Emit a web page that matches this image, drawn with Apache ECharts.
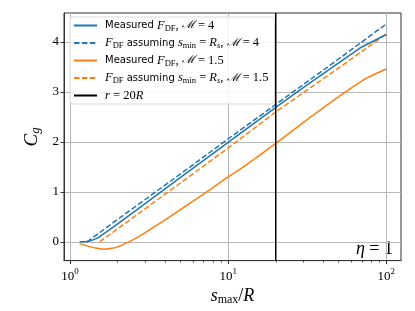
<!DOCTYPE html>
<html><head><meta charset="utf-8">
<script src="https://cdn.jsdelivr.net/npm/echarts@6/dist/echarts.min.js"></script>
<style>html,body{margin:0;padding:0;background:#fff}#c{width:415px;height:311px}</style>
</head><body><div id="c"></div>
<script>
// Measured F_DF, M = 4
const xM4 = [1.15, 1.25, 1.35, 1.5, 1.7, 2, 3, 5, 10, 20, 30, 50, 70, 100];
const yM4 = [0, 0, 0.02, 0.08, 0.2, 0.36, 0.77, 1.29, 1.99, 2.69, 3.09, 3.58, 3.90, 4.15];
// F_DF assuming s_min = R_s, M = 4
const xA4 = [1.28, 2, 5, 10, 20, 50, 100];
const yA4 = [0, 0.45, 1.36, 2.06, 2.75, 3.66, 4.36];
// Measured F_DF, M = 1.5
const xM15 = [1.15, 1.3, 1.45, 1.62, 1.8, 2.0, 2.36, 2.7, 3.2, 4.55, 7.33, 10, 12.5, 20, 33, 45, 57.7, 75.5, 100];
const yM15 = [-0.035, -0.085, -0.125, -0.147, -0.135, -0.10, 0, 0.10, 0.245, 0.56, 1.0, 1.30, 1.5, 1.97, 2.49, 2.80, 3.04, 3.28, 3.46];
// F_DF assuming s_min = R_s, M = 1.5
const xA15 = [1.54, 2, 5, 10, 20, 50, 100];
const yA15 = [0, 0.26, 1.18, 1.88, 2.60, 3.48, 4.16];
// r = 20R
const rLineX = 20;
const xTicks = [1, 10, 100];
const xMinorTicks = [2, 3, 4, 5, 6, 7, 8, 9, 20, 30, 40, 50, 60, 70, 80, 90];
const yTicks = [0, 1, 2, 3, 4];
const xMin = 0.916, xMax = 123.9, yMin = -0.375, yMax = 4.58;

const zip = (xs, ys) => xs.map((x, i) => [x, ys[i]]);
const SERIF = 'Liberation Serif';
const SANS = 'DejaVu Sans';
const legendNames = {
  m4: '{t|Measured }{i|F}{s|DF}{r|, }{c|ℳ}{r| = 4}',
  a4: '{i|F}{s|DF}{t| assuming }{i|s}{s|min}{r| = }{i|R}{si|s}{r|, }{c|ℳ}{r| = 4}',
  m15: '{t|Measured }{i|F}{s|DF}{r|, }{c|ℳ}{r| = 1.5}',
  a15: '{i|F}{s|DF}{t| assuming }{i|s}{s|min}{r| = }{i|R}{si|s}{r|, }{c|ℳ}{r| = 1.5}',
  r20: '{i|r}{r| = 20}{i|R}'
};
const blue = '#1f77b4', orange = '#ff7f0e';
const lw = 1.5, dash = [5.5, 2.4];

const chart = echarts.init(document.getElementById('c'), null, {renderer: 'canvas'});
chart.setOption({
  animation: false,
  backgroundColor: '#fff',
  grid: {left: 64, right: 14, top: 13, bottom: 45, show: true, borderColor: '#333', borderWidth: 1},
  legend: {
    orient: 'vertical', left: 70, top: 17,
    padding: [2, 6, 2, 3], itemGap: 3.5, itemWidth: 23, itemHeight: 10,
    itemStyle: {opacity: 0, borderWidth: 0},
    backgroundColor: 'rgba(255,255,255,0.85)', borderColor: '#dadada', borderWidth: 1, borderRadius: 3,
    selectedMode: false,
    data: ['m4', 'a4', 'm15', 'a15', 'r20'],
    formatter: n => legendNames[n],
    textStyle: {
      padding: [0, 0, 0, 3],
      rich: {
        t: {fontFamily: SANS, fontSize: 10, color: '#000'},
        i: {fontFamily: SERIF, fontStyle: 'italic', fontSize: 12.5, color: '#000'},
        r: {fontFamily: SERIF, fontSize: 12.5, color: '#000'},
        c: {fontFamily: 'DejaVu Serif', fontStyle: 'italic', fontSize: 11.5, color: '#000'},
        s: {fontFamily: SERIF, fontSize: 8.5, color: '#000', padding: [6, 0, 0, 0]},
        si: {fontFamily: SERIF, fontStyle: 'italic', fontSize: 8.5, color: '#000', padding: [6, 0, 0, 0]}
      }
    }
  },
  xAxis: [{
    type: 'log', logBase: 10, min: xMin, max: xMax,
    name: '{i|s}{s|max}{r|/}{i|R}', nameLocation: 'middle', nameGap: 22,
    nameTextStyle: {rich: {
      i: {fontFamily: SERIF, fontStyle: 'italic', fontSize: 18, color: '#000'},
      r: {fontFamily: SERIF, fontSize: 18, color: '#000'},
      s: {fontFamily: SERIF, fontSize: 12, color: '#000', padding: [7, 0, 0, 0]}
    }},
    axisLine: {show: true, onZero: false, lineStyle: {color: '#333', width: 1}},
    axisTick: {show: true, inside: false, length: 3.5, customValues: xTicks, lineStyle: {color: '#333', width: 1}},
    axisLabel: {
      customValues: xTicks, margin: 7,
      formatter: v => '{b|10}{s|' + Math.round(Math.log10(v)) + '}',
      rich: {
        b: {fontFamily: SERIF, fontSize: 13, color: '#000'},
        s: {fontFamily: SERIF, fontSize: 9, color: '#000', padding: [0, 0, 8, 0]}
      }
    },
    splitLine: {show: true, lineStyle: {color: '#b8b8b8', width: 1}}
  }, {
    type: 'log', logBase: 10, min: xMin, max: xMax, position: 'bottom',
    axisLine: {show: false, onZero: false},
    axisTick: {show: true, inside: false, length: 2, customValues: xMinorTicks, lineStyle: {color: '#333', width: 0.8}},
    axisLabel: {show: false},
    splitLine: {show: false}
  }],
  yAxis: {
    type: 'value', min: yMin, max: yMax,
    name: '{i|C}{s|g}', nameLocation: 'middle', nameGap: 18, nameRotate: 90,
    nameTextStyle: {rich: {
      i: {fontFamily: SERIF, fontStyle: 'italic', fontSize: 19, color: '#000'},
      s: {fontFamily: SERIF, fontStyle: 'italic', fontSize: 13, color: '#000', padding: [7, 0, 0, 0]}
    }},
    axisLine: {show: true, onZero: false, lineStyle: {color: '#333', width: 1}},
    axisTick: {show: true, inside: false, length: 3.5, customValues: yTicks, lineStyle: {color: '#333', width: 1}},
    axisLabel: {customValues: yTicks, margin: 5, fontFamily: SERIF, fontSize: 13, color: '#000'},
    splitLine: {show: true, lineStyle: {color: '#b8b8b8', width: 1}}
  },
  graphic: [{
    type: 'text', x: 393, y: 249,
    style: {
      text: '{i|η}{r| = 1}', textAlign: 'right', textVerticalAlign: 'middle',
      rich: {
        i: {fontFamily: SERIF, fontStyle: 'italic', fontSize: 18, fill: '#000'},
        r: {fontFamily: SERIF, fontSize: 18, fill: '#000'}
      }
    }
  }],
  series: [
    {name: 'm4', type: 'line', data: zip(xM4, yM4), showSymbol: false, symbol: 'none',
     lineStyle: {color: blue, width: lw}, itemStyle: {color: blue}, z: 5},
    {name: 'a4', type: 'line', data: zip(xA4, yA4), showSymbol: false, symbol: 'none',
     lineStyle: {color: blue, width: lw, type: dash}, itemStyle: {color: blue}, z: 5},
    {name: 'm15', type: 'line', data: zip(xM15, yM15), showSymbol: false, symbol: 'none', smooth: 0.2,
     lineStyle: {color: orange, width: lw}, itemStyle: {color: orange}, z: 4},
    {name: 'a15', type: 'line', data: zip(xA15, yA15), showSymbol: false, symbol: 'none',
     lineStyle: {color: orange, width: lw, type: dash}, itemStyle: {color: orange}, z: 4},
    {name: 'r20', type: 'line', data: [[rLineX, yMin], [rLineX, yMax]], showSymbol: false, symbol: 'none',
     lineStyle: {color: '#000', width: lw}, itemStyle: {color: '#000'}, z: 6}
  ]
});
</script></body></html>
